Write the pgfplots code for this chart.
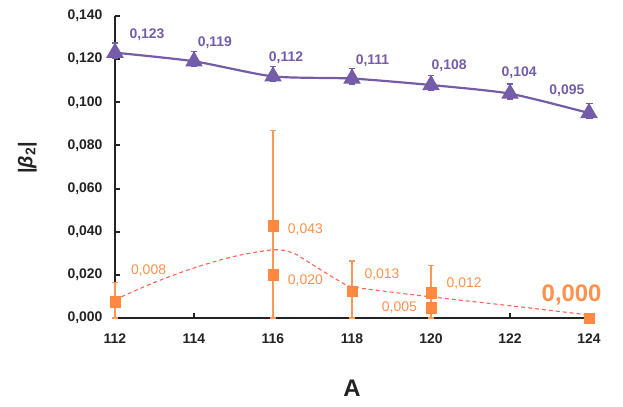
\documentclass[border=0pt]{standalone}
\usepackage{pgfplots}
\pgfplotsset{compat=1.18}
\usepackage{fontspec}
\setmainfont{Liberation Sans}
\definecolor{pur}{RGB}{117,92,168}
\definecolor{orm}{RGB}{255,137,64}
\definecolor{ort}{RGB}{255,145,75}
\definecolor{ore}{RGB}{255,150,90}
\definecolor{dsh}{RGB}{255,100,80}
\definecolor{axc}{RGB}{35,35,35}
\begin{document}
\begin{tikzpicture}
\begin{axis}[
  scale only axis, width=474bp, height=302bp,
  xmin=112, xmax=124, ymin=0, ymax=0.14,
  axis x line*=bottom, axis y line*=left,
  axis line style={line width=2.2pt, color=axc},
  xtick={112,114,116,118,120,122,124},
  xticklabels={112,114,116,118,120,122,124},
  ytick={0,0.02,0.04,0.06,0.08,0.1,0.12,0.14},
  yticklabels={{0,000},{0,020},{0,040},{0,060},{0,080},{0,100},{0,120},{0,140}},
  tick align=inside,
  major tick length=5bp,
  tick style={line width=2pt, color=axc},
  ticklabel style={font=\fontsize{14}{16}\selectfont\bfseries, text=axc},
  xticklabel style={yshift=-12bp},
  yticklabel style={xshift=-9bp},
  xlabel={A},
  xlabel style={font=\fontsize{24}{28}\selectfont\bfseries, text=axc, at={(axis description cs:0.5,-0.2318)}, anchor=center},
  ylabel={|\textit{β}\textsubscript{2}|},
  ylabel style={font=\fontsize{20}{24}\selectfont\bfseries, text=axc, at={(axis description cs:-0.185,0.53)}, anchor=center},
  clip=false,
]
\coordinate (bbll) at (rel axis cs:-0.2426,-0.2914);
\coordinate (bbur) at (rel axis cs:1.0717,1.053);

% orange series with error bars
\addplot[only marks, mark=square*, mark size=5.3pt, color=orm,
  error bars/.cd, y dir=both, y explicit, error mark=|,
  error bar style={line width=1.3pt, draw=ore, color=ore},
  error mark options={line width=1.3pt, draw=ore, color=ore, mark size=3pt}]
  table[x=x, y=y, y error plus=ep, y error minus=em] {
x y ep em
112 0.0075 0.0090 0.0075
116 0.0428 0.0440 0.0428
116 0.0200 0.0000 0.0000
118 0.0125 0.0139 0.0125
120 0.0118 0.0125 0.0118
120 0.0048 0.0000 0.0000
124 0.0000 0.0000 0.0000
};

% dashed trend curve
\addplot[smooth, tension=0.5, color=dsh, line width=1.1pt, dash pattern=on 4pt off 3pt] coordinates {
(112,0.0085) (113,0.0165) (114,0.0232) (115,0.0285) (116,0.0316) (116.5,0.0302) (117,0.0247) (117.7,0.0169) (118,0.0145) (119,0.0120) (120,0.0098) (122,0.0057) (124,0.0014)
};

% purple series
\addplot[smooth, tension=0.4, color=pur, line width=2.2pt, mark=triangle*, mark size=8pt,
  mark options={solid},
  error bars/.cd, y dir=both, y explicit, error mark=|,
  error bar style={line width=1.2pt, color=pur},
  error mark options={line width=1.2pt, color=pur, mark size=3.5pt}]
  table[x=x, y=y, y error plus=ep, y error minus=em] {
x y ep em
112 0.123 0.0045 0.0025
114 0.119 0.0045 0.0025
116 0.112 0.0045 0.0025
118 0.111 0.0045 0.0025
120 0.108 0.0045 0.0025
122 0.104 0.0045 0.0025
124 0.095 0.0045 0.0025
};

% purple value labels
\begin{scope}[every node/.style={font=\fontsize{14}{16}\selectfont\bfseries, text=pur, inner sep=0pt}]
\node at (axis cs:112.81,0.1313) {0,123};
\node at (axis cs:114.53,0.1278) {0,119};
\node at (axis cs:116.33,0.1206) {0,112};
\node at (axis cs:118.52,0.1195) {0,111};
\node at (axis cs:120.46,0.1169) {0,108};
\node at (axis cs:122.23,0.1139) {0,104};
\node at (axis cs:123.44,0.1053) {0,095};
\end{scope}
% orange value labels
\begin{scope}[every node/.style={font=\fontsize{14}{16}\selectfont, text=ort, inner sep=0pt}]
\node at (axis cs:112.85,0.0218) {0,008};
\node at (axis cs:116.82,0.0408) {0,043};
\node at (axis cs:116.82,0.0172) {0,020};
\node at (axis cs:118.76,0.0201) {0,013};
\node at (axis cs:120.84,0.0162) {0,012};
\node at (axis cs:119.20,0.0049) {0,005};
\node[font=\fontsize{24}{28}\selectfont\bfseries] at (axis cs:123.56,0.0108) {0,000};
\end{scope}
\end{axis}
\pgfresetboundingbox
\path[use as bounding box] (bbll) rectangle (bbur);
\end{tikzpicture}
\end{document}
